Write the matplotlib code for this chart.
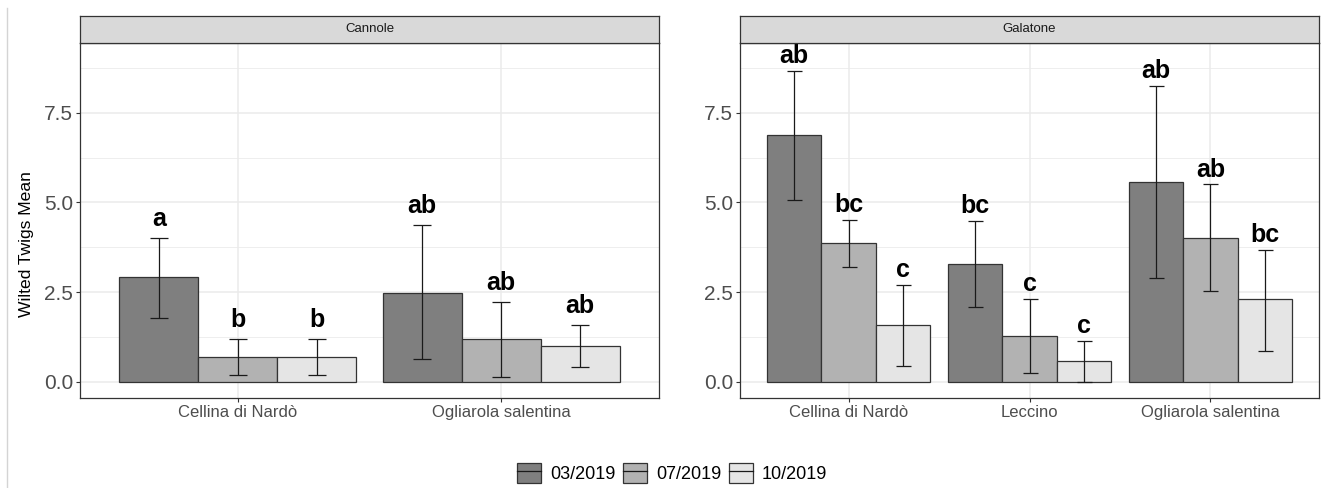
import matplotlib
matplotlib.use("Agg")
import matplotlib.pyplot as plt
import numpy as np
from matplotlib.patches import Patch
from matplotlib.lines import Line2D
from matplotlib.legend_handler import HandlerTuple

plt.rcParams['font.family'] = ['Liberation Sans', 'DejaVu Sans']

# sampling dates (fill order: dark -> light)
dates = ['03/2019', '07/2019', '10/2019']
date_colors = ['#7f7f7f', '#b2b2b2', '#e5e5e5']

# Cannole site
cannole_cultivars = ['Cellina di Nardò', 'Ogliarola salentina']
cannole_mean = [[2.91, 2.48], [0.68, 1.20], [0.68, 1.00]]
cannole_upper = [[4.00, 4.36], [1.20, 2.23], [1.20, 1.58]]
cannole_lower = [[1.78, 0.65], [0.20, 0.13], [0.20, 0.42]]
cannole_letters = [['a', 'ab'], ['b', 'ab'], ['b', 'ab']]

# Galatone site
galatone_cultivars = ['Cellina di Nardò', 'Leccino', 'Ogliarola salentina']
galatone_mean = [[6.87, 3.29, 5.58], [3.87, 1.29, 4.00], [1.58, 0.57, 2.30]]
galatone_upper = [[8.67, 4.48, 8.25], [4.51, 2.32, 5.50], [2.70, 1.15, 3.68]]
galatone_lower = [[5.07, 2.09, 2.90], [3.19, 0.26, 2.52], [0.45, 0.00, 0.87]]
galatone_letters = [['ab', 'bc', 'ab'], ['bc', 'c', 'ab'], ['c', 'c', 'bc']]

W, H = 1322, 488
fig = plt.figure(figsize=(W / 100, H / 100), dpi=100)

# faint vertical rule at the left edge of the original page
fig.add_artist(Line2D([7 / W, 7 / W], [0, 1 - 8 / H], color='#d4d4d4', lw=1.0))

panel_top, panel_bot = 42.7, 398.0
strip_h = 27.0
ylim = (-0.45, 9.45)


def draw_panel(x0, x1, title, cultivars, means, uppers, lowers, letters, capsize, txt_off):
    ax = fig.add_axes([x0 / W, 1 - panel_bot / H, (x1 - x0) / W, (panel_bot - panel_top) / H])
    n = len(cultivars)
    pos = np.arange(1, n + 1)
    width = 0.3
    for i in range(3):
        xs = pos + (i - 1) * width
        ax.bar(xs, means[i], width=width, color=date_colors[i], edgecolor='#333333',
               linewidth=0.9, zorder=3)
        m = np.array(means[i])
        up = np.array(uppers[i])
        lo = np.array(lowers[i])
        ax.errorbar(xs, m, yerr=[m - lo, up - m], fmt='none', ecolor='#1a1a1a',
                    elinewidth=0.9, capsize=capsize, capthick=0.9, zorder=4)
        for x, u, lab in zip(xs, up, letters[i]):
            ax.text(x, u + txt_off, lab, ha='center', va='bottom', fontsize=18,
                    fontweight='bold', color='black', zorder=5)
    ax.set_xlim(0.4, n + 0.6)
    ax.set_ylim(*ylim)
    ax.set_xticks(pos)
    ax.set_xticklabels(cultivars, fontsize=12, color='#4d4d4d')
    ax.set_yticks([0, 2.5, 5.0, 7.5])
    ax.set_yticklabels(['0.0', '2.5', '5.0', '7.5'], fontsize=15, color='#4d4d4d')
    ax.set_yticks([1.25, 3.75, 6.25, 8.75], minor=True)
    ax.tick_params(axis='both', which='major', length=3, width=0.8, color='#333333', pad=2)
    ax.tick_params(axis='y', which='minor', length=0)
    ax.grid(True, which='major', color='#ebebeb', lw=1.1, zorder=0)
    ax.grid(True, which='minor', axis='y', color='#ebebeb', lw=0.6, zorder=0)
    ax.set_axisbelow(True)
    for s in ax.spines.values():
        s.set_color('#333333')
        s.set_linewidth(0.9)

    strip = fig.add_axes([x0 / W, 1 - panel_top / H, (x1 - x0) / W, strip_h / H])
    strip.set_facecolor('#d9d9d9')
    strip.set_xticks([])
    strip.set_yticks([])
    for s in strip.spines.values():
        s.set_color('#333333')
        s.set_linewidth(0.9)
    strip.text(0.5, 0.5, title, ha='center', va='center', fontsize=9.5,
               color='#1a1a1a', transform=strip.transAxes)
    return ax


ax1 = draw_panel(80, 659, 'Cannole', cannole_cultivars, cannole_mean, cannole_upper,
                 cannole_lower, cannole_letters, capsize=6.7, txt_off=0.2)
ax2 = draw_panel(740, 1319, 'Galatone', galatone_cultivars, galatone_mean, galatone_upper,
                 galatone_lower, galatone_letters, capsize=5.4, txt_off=0.08)

fig.text(26 / W, 1 - 244 / H, 'Wilted Twigs Mean', rotation=90, ha='center', va='center',
         fontsize=12.6, color='black')

# legend keys: filled square with a horizontal line through it
handles = [(Patch(facecolor=c, edgecolor='#333333', linewidth=0.9),
            Line2D([], [], color='#1a1a1a', lw=0.9)) for c in date_colors]
fig.legend(handles, dates, loc='center', bbox_to_anchor=(672 / W, 1 - 473 / H),
           ncol=3, frameon=False, fontsize=13,
           handler_map={tuple: HandlerTuple(ndivide=1, pad=0)},
           handlelength=1.35, handleheight=1.3, handletextpad=0.5, columnspacing=0.4)

fig.savefig('out.png', dpi=100)
